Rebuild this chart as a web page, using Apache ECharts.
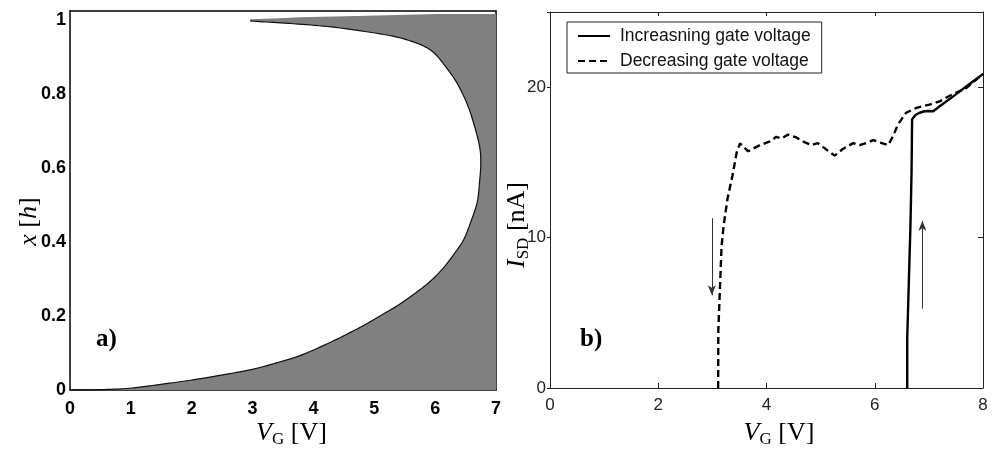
<!DOCTYPE html>
<html>
<head>
<meta charset="utf-8">
<script src="https://cdn.jsdelivr.net/npm/echarts@6/dist/echarts.min.js"></script>
<style>
html,body{margin:0;padding:0;background:#fff;}
#chart{width:992px;height:453px;}
</style>
</head>
<body>
<div id="chart"></div>
<script>
// ---- Panel a) : boundary of the shaded region (V_G [V], x [h]) ----
const curveV = [0, 0.5, 0.93, 1.3, 1.75, 2.2, 2.58, 3.0, 3.34, 3.78, 4.28, 4.55, 4.82, 5.10, 5.37, 5.65, 5.92, 6.14, 6.33, 6.47, 6.58, 6.69, 6.73, 6.75, 6.73, 6.63, 6.52, 6.36, 6.17, 5.98, 5.76, 5.43, 5.10, 4.44, 3.89, 3.34, 2.96];
const curveX = [0, 0.001, 0.004, 0.011, 0.021, 0.032, 0.043, 0.056, 0.071, 0.093, 0.129, 0.151, 0.174, 0.201, 0.227, 0.259, 0.294, 0.331, 0.372, 0.407, 0.452, 0.507, 0.563, 0.613, 0.659, 0.723, 0.776, 0.83, 0.875, 0.912, 0.934, 0.952, 0.963, 0.979, 0.988, 0.994, 0.998];
const edgeV = [2.96, 3.34, 3.78, 4.88, 6.03, 7.0, 7.0];
const edgeX = [1.003, 1.005, 1.008, 1.012, 1.017, 1.017, 0];

// ---- Panel b) : I_SD [nA] vs V_G [V] ----
const incV = [6.60, 6.60, 6.63, 6.66, 6.68, 6.69, 6.75, 6.83, 6.92, 7.0, 7.08, 7.20, 7.45, 7.69, 8.0];
const incI = [0, 3.3, 7.1, 10.85, 14.4, 17.86, 18.15, 18.3, 18.4, 18.42, 18.4, 18.73, 19.39, 20.05, 20.88];
const decV = [3.107, 3.11, 3.17, 3.21, 3.28, 3.37, 3.45, 3.51, 3.66, 3.88, 4.06, 4.18, 4.28, 4.40, 4.55, 4.71, 4.83, 4.95, 5.11, 5.26, 5.41, 5.60, 5.72, 5.88, 5.97, 6.09, 6.25, 6.34, 6.43, 6.58, 6.77, 7.01, 7.20, 7.42, 7.69, 8.0];
const decI = [0, 3.85, 9.43, 10.85, 12.6, 14.1, 15.67, 16.26, 15.74, 16.15, 16.39, 16.7, 16.59, 16.85, 16.66, 16.33, 16.15, 16.28, 15.84, 15.45, 15.89, 16.28, 16.15, 16.33, 16.48, 16.33, 16.15, 16.77, 17.53, 18.3, 18.63, 18.84, 19.06, 19.5, 19.94, 20.88];
const arrowV = [2.99, 6.88];
const arrowFrom = [11.29, 5.27];
const arrowTo = [6.17, 11.12];

const seriesNames = ['Increasning gate voltage', 'Decreasing gate voltage'];
const panelLabels = ['a)', 'b)'];
const xTicksA = [0, 7, 1];
const yTicksA = [0, 1.025, 0.2];
const xTicksB = [0, 8, 2];
const yTicksB = [0, 25, 10];

const zip = (a, b) => a.map((v, i) => [v, b[i]]);
const curveData = zip(curveV, curveX);
const edgeData = zip(edgeV, edgeX);

const serif = 'Liberation Serif, Times New Roman, serif';
const sans = 'Liberation Sans, Arial, Helvetica, sans-serif';

const nameRich = {
  i: { fontFamily: serif, fontStyle: 'italic', fontSize: 26, color: '#000' },
  r: { fontFamily: serif, fontSize: 26, color: '#000' },
  s: { fontFamily: serif, fontSize: 17, color: '#000', padding: [12, 0, 0, 0] }
};

function fmtA(v) { return Math.abs(v / 0.2 - Math.round(v / 0.2)) < 1e-6 ? String(+v.toFixed(1)) : ''; }
function fmtB(v) { return v % 10 === 0 ? String(v) : ''; }

// Catmull-Rom densification of pixel points (rendering only)
function spline(pts, steps) {
  const out = [];
  for (let i = 0; i < pts.length - 1; i++) {
    const p0 = pts[i - 1] || pts[i], p1 = pts[i], p2 = pts[i + 1], p3 = pts[i + 2] || pts[i + 1];
    for (let s = 0; s < steps; s++) {
      const t = s / steps, t2 = t * t, t3 = t2 * t;
      const f = k => 0.5 * ((2 * p1[k]) + (-p0[k] + p2[k]) * t + (2 * p0[k] - 5 * p1[k] + 4 * p2[k] - p3[k]) * t2 + (-p0[k] + 3 * p1[k] - 3 * p2[k] + p3[k]) * t3);
      out.push([f(0), f(1)]);
    }
  }
  out.push(pts[pts.length - 1]);
  return out;
}

function axisBox(color, width) { return { show: true, onZero: false, lineStyle: { color: color, width: width } }; }

const chart = echarts.init(document.getElementById('chart'), null, { renderer: 'canvas' });
chart.setOption({
  animation: false,
  backgroundColor: '#fff',
  grid: [
    { left: 70, top: 11, width: 426, height: 380 },
    { left: 550, top: 12, width: 433, height: 380 }
  ],
  legend: {
    data: seriesNames,
    orient: 'vertical',
    left: 567, top: 22,
    padding: [5, 11, 3, 10],
    itemGap: 7,
    itemWidth: 32, itemHeight: 14,
    borderColor: '#222', borderWidth: 1,
    itemStyle: { opacity: 0 },
    textStyle: { fontFamily: sans, fontSize: 17.5, lineHeight: 17, color: '#111', padding: [0, 0, 0, 5] }
  },
  xAxis: [
    { gridIndex: 0, type: 'value', min: xTicksA[0], max: xTicksA[1], interval: xTicksA[2],
      name: '{i|V}{s|G}{r| [V]}', nameLocation: 'middle', nameGap: 29, nameMoveOverlap: false,
      nameTextStyle: { rich: nameRich, padding: [0, 0, 0, 17] },
      axisLine: axisBox('#000', 1.5), axisTick: { show: false },
      axisLabel: { fontFamily: sans, fontWeight: 'bold', fontSize: 18, color: '#000', margin: 10 },
      splitLine: { show: false } },
    { gridIndex: 1, type: 'value', min: xTicksB[0], max: xTicksB[1], interval: xTicksB[2],
      name: '{i|V}{s|G}{r| [V]}', nameLocation: 'middle', nameGap: 31, nameMoveOverlap: false,
      nameTextStyle: { rich: nameRich, padding: [0, 0, 0, 25] },
      axisLine: axisBox('#222', 1),
      axisTick: { show: true, inside: true, length: 5, lineStyle: { color: '#222' } },
      axisLabel: { fontFamily: sans, fontSize: 17, color: '#222', margin: 9 },
      splitLine: { show: false } },
    { gridIndex: 0, type: 'value', position: 'top', min: xTicksA[0], max: xTicksA[1], interval: xTicksA[2],
      axisLine: axisBox('#000', 1.5), axisTick: { show: false },
      axisLabel: { show: false }, splitLine: { show: false } },
    { gridIndex: 1, type: 'value', position: 'top', min: xTicksB[0], max: xTicksB[1], interval: xTicksB[2],
      axisLine: axisBox('#222', 1),
      axisTick: { show: true, inside: true, length: 4, lineStyle: { color: '#222' } },
      axisLabel: { show: false }, splitLine: { show: false } }
  ],
  yAxis: [
    { gridIndex: 0, type: 'value', min: yTicksA[0], max: yTicksA[1], interval: yTicksA[2],
      name: '{i|x}{r| [}{i|h}{r|]}', nameLocation: 'middle', nameGap: 28, nameMoveOverlap: false,
      nameTextStyle: { rich: nameRich, padding: [0, 42, 0, 0] },
      axisLine: axisBox('#000', 1.5), axisTick: { show: false },
      axisLabel: { fontFamily: sans, fontWeight: 'bold', fontSize: 18, color: '#000', margin: 4, formatter: fmtA },
      splitLine: { show: false } },
    { gridIndex: 1, type: 'value', min: yTicksB[0], max: yTicksB[1], interval: yTicksB[2],
      name: '{i|I}{s|SD}{r| [nA]}', nameLocation: 'middle', nameGap: 18, nameMoveOverlap: false,
      nameTextStyle: { rich: nameRich, padding: [0, 50, 0, 0] },
      axisLine: axisBox('#222', 1),
      axisTick: { show: true, inside: false, length: 3, lineStyle: { color: '#222' } },
      axisLabel: { fontFamily: sans, fontSize: 17, color: '#222', margin: 4, formatter: fmtB },
      splitLine: { show: false } },
    { gridIndex: 0, type: 'value', position: 'right', min: yTicksA[0], max: yTicksA[1], interval: yTicksA[2],
      axisLine: axisBox('#000', 1.5), axisTick: { show: false },
      axisLabel: { show: false }, splitLine: { show: false } },
    { gridIndex: 1, type: 'value', position: 'right', min: yTicksB[0], max: yTicksB[1], interval: yTicksB[2],
      axisLine: axisBox('#222', 1),
      axisTick: { show: true, inside: true, length: 5, lineStyle: { color: '#222' } },
      axisLabel: { show: false }, splitLine: { show: false } }
  ],
  series: [
    { type: 'custom', name: 'region', xAxisIndex: 0, yAxisIndex: 0, silent: true, z: 1,
      data: curveData.concat(edgeData),
      renderItem: function (params, api) {
        if (params.dataIndex !== 0) return null;
        const curvePx = spline(curveData.map(p => api.coord(p)), 8);
        const edgePx = edgeData.map(p => api.coord(p));
        return {
          type: 'group',
          children: [
            { type: 'polygon', shape: { points: curvePx.concat(edgePx) }, style: { fill: '#808080', stroke: null } },
            { type: 'polyline', shape: { points: curvePx }, style: { fill: null, stroke: '#111', lineWidth: 1.2 } }
          ]
        };
      } },
    { type: 'line', name: seriesNames[0], xAxisIndex: 1, yAxisIndex: 1, z: 4,
      data: zip(incV, incI), symbol: 'none',
      lineStyle: { color: '#000', width: 2.4, type: 'solid' },
      itemStyle: { color: '#000' },
      markLine: {
        silent: true, symbol: ['none', 'arrow'], symbolSize: [6, 10],
        label: { show: false },
        lineStyle: { color: '#333', width: 1, type: 'solid' },
        data: arrowV.map((v, i) => [{ coord: [v, arrowFrom[i]] }, { coord: [v, arrowTo[i]] }])
      } },
    { type: 'line', name: seriesNames[1], xAxisIndex: 1, yAxisIndex: 1, z: 4,
      data: zip(decV, decI), symbol: 'none',
      lineStyle: { color: '#000', width: 2.4, type: [7, 4] },
      itemStyle: { color: '#000' } }
  ],
  graphic: [
    { type: 'text', left: 96, top: 327, style: { text: panelLabels[0], font: 'bold 25px ' + serif, fill: '#000' } },
    { type: 'text', left: 580, top: 327, style: { text: panelLabels[1], font: 'bold 25px ' + serif, fill: '#000' } }
  ]
});
</script>
</body>
</html>
